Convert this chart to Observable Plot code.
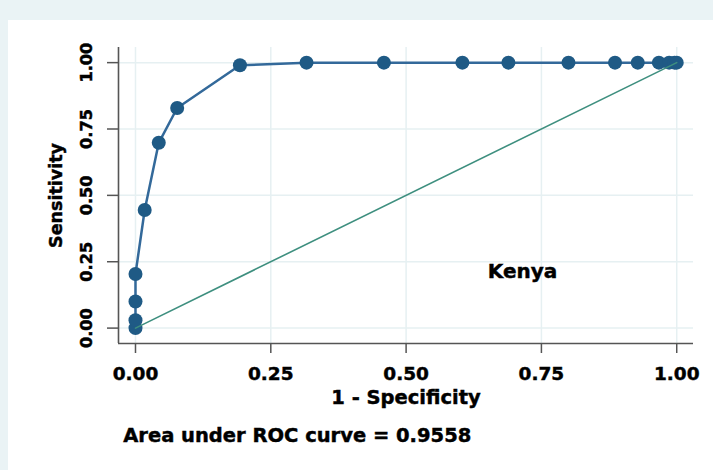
<!DOCTYPE html>
<html><head><meta charset="utf-8">
<script src="https://cdn.jsdelivr.net/npm/d3@7"></script>
<script src="https://cdn.jsdelivr.net/npm/@observablehq/plot@0.6"></script>
<style>
html,body{margin:0;padding:0;}
body{width:713px;height:470px;background:#eaf3f5;position:relative;overflow:hidden;}
#panel{position:absolute;left:8px;top:20px;right:0;bottom:0;background:#fff;}
#chart{position:absolute;left:0;top:0;}
#chart svg text{stroke:#000;stroke-width:0.45px;}
</style></head><body>
<div id="panel"></div>
<div id="chart"></div>
<script>
// ROC curve points (1 - specificity, sensitivity)
const fpr = [0, 0, 0, 0, 0.017, 0.043, 0.077, 0.193, 0.316, 0.459, 0.604, 0.689, 0.80, 0.886, 0.928, 0.967, 0.986, 0.996, 1];
const sensitivity = [0, 0.03, 0.10, 0.204, 0.445, 0.698, 0.829, 0.99, 1, 1, 1, 1, 1, 1, 1, 1, 1, 1, 1];
// reference (chance) line
const refFpr = [0, 1];
const refSens = [0, 1];
const xTicks = [0, 0.25, 0.5, 0.75, 1];
const yTicks = [0, 0.25, 0.5, 0.75, 1];
const xLabel = "1 - Specificity";
const yLabel = "Sensitivity";
const countryLabel = "Kenya";
const countryLabelAt = {x: 0.715, y: 0.19};
const caption = "Area under ROC curve = 0.9558";

const roc = fpr.map((x, i) => ({x, y: sensitivity[i]}));
const ref = refFpr.map((x, i) => ({x, y: refSens[i]}));
const xDom = [-0.0314, 1.031];
const yDom = [-0.058, 1.057];
const fmt = d3.format(".2f");
const axisGray = "#555";
const gridColor = "#e6f0f2";

const chart = Plot.plot({
  width: 713, height: 470,
  marginLeft: 118, marginRight: 20, marginTop: 47, marginBottom: 127,
  style: {background: "transparent", fontFamily: "DejaVu Sans", fontWeight: "bold", color: "#000", overflow: "visible"},
  x: {domain: xDom, label: null},
  y: {domain: yDom, label: null},
  marks: [
    Plot.gridX(xTicks, {stroke: gridColor, strokeOpacity: 1, strokeWidth: 1.5}),
    Plot.gridY(yTicks, {stroke: gridColor, strokeOpacity: 1, strokeWidth: 1.5}),
    Plot.ruleX([xDom[0]], {stroke: axisGray, strokeWidth: 1.6}),
    Plot.ruleY([yDom[0]], {stroke: axisGray, strokeWidth: 1.6}),
    Plot.axisX({ticks: xTicks, tickFormat: fmt, tickSize: 10, tickPadding: 13.5, fontSize: 18.5, fontWeight: "bold", stroke: axisGray, strokeWidth: 1.5, fill: "#000", label: null}),
    Plot.axisY({ticks: yTicks, tickFormat: fmt, tickSize: 11, tickPadding: 16, tickRotate: -90, fontSize: 16.2, fontWeight: "bold", stroke: axisGray, strokeWidth: 1.5, fill: "#000", label: null}),
    Plot.line(roc, {x: "x", y: "y", stroke: "#33699a", strokeWidth: 2.5}),
    Plot.dot(roc, {x: "x", y: "y", r: 7, fill: "#1f5a85", stroke: "none"}),
    Plot.line(ref, {x: "x", y: "y", stroke: "#3e8f7f", strokeWidth: 1.6}),
    Plot.text([countryLabel], {x: () => countryLabelAt.x, y: () => countryLabelAt.y, text: d => d, lineAnchor: "bottom", fontSize: 20, fontWeight: "bold", fill: "#000"}),
    Plot.text([xLabel], {text: d => d, frameAnchor: "bottom", dy: 60.3, lineAnchor: "bottom", fontSize: 19.5, fontWeight: "bold", fill: "#000"}),
    Plot.text([yLabel], {text: d => d, frameAnchor: "left", rotate: -90, dx: -57, lineAnchor: "bottom", textAnchor: "middle", fontSize: 17.5, fontWeight: "bold", fill: "#000"}),
    Plot.text([caption], {text: d => d, frameAnchor: "bottom-left", textAnchor: "start", dx: 4.7, dy: 98.5, lineAnchor: "bottom", fontSize: 19.5, fontWeight: "bold", fill: "#000"})
  ]
});
document.getElementById("chart").appendChild(chart);
</script>
</body></html>
